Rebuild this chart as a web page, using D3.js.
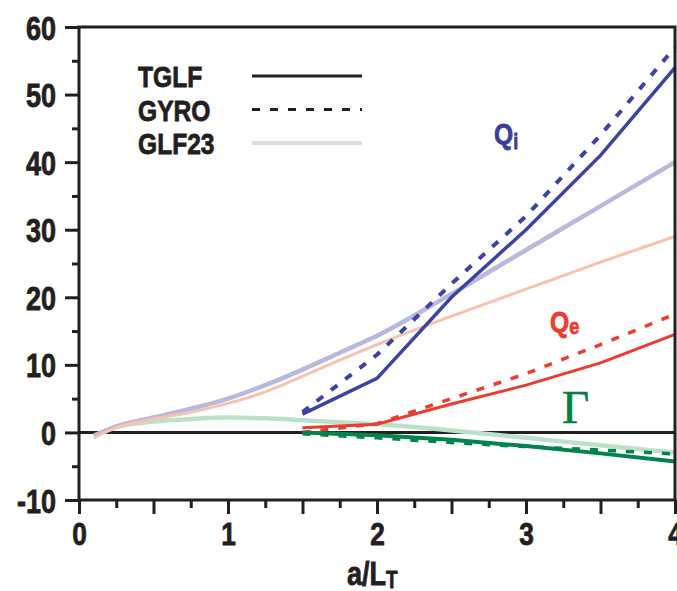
<!DOCTYPE html>
<html>
<head>
<meta charset="utf-8">
<script src="https://cdn.jsdelivr.net/npm/d3@7"></script>
<style>
  html, body { margin: 0; padding: 0; background: #fff; }
  svg { display: block; }
</style>
</head>
<body>
<div id="chart"></div>
<script>
// values
const xTGLF = [1.5, 2, 2.5, 3, 3.5, 4];
const qiTGLF = [2.7, 8, 20, 30, 41, 54];
const qiGYRO = [3, 11.5, 22, 32, 44, 57];
const qeTGLF = [0.7, 1.2, 4.2, 7, 10.3, 14.5];
const qeGYRO = [0, 1.3, 5, 8.7, 13, 17.5];
const gamTGLF = [0, -0.4, -1.1, -2.0, -3.1, -4.3];
const gamGYRO = [-0.2, -0.8, -1.5, -2.1, -2.6, -3.2];

const xGLF = [0.1, 0.25, 0.5, 0.75, 1, 1.25, 1.5, 1.75, 2, 2.5, 3, 3.5, 4];
const qiGLF = [-0.5, 0.9, 2.2, 3.5, 5, 7, 9.3, 11.8, 14.3, 20.5, 27, 33.5, 40];
const qeGLF = [-0.8, 0.7, 2, 3, 4.3, 6, 8.3, 10.7, 13, 17.2, 21.2, 25.2, 29];
const gamGLF = [-0.5, 0.8, 1.6, 2.0, 2.2, 2.1, 1.8, 1.5, 1.2, 0.3, -0.8, -1.9, -3];

const xTicks = d3.range(0, 4.001, 0.25);
const yTicks = d3.range(-10, 60.001, 5);
const legendNames = ["TGLF", "GYRO", "GLF23"];

const width = 677, height = 591;
const ink = "#231f20";

const svg = d3.select("#chart").append("svg")
  .attr("width", width)
  .attr("height", height);

// use a narrow bold face when there is one, otherwise squeeze the regular one
const probe = svg.append("text")
  .style("font", "bold 100px 'Liberation Sans Narrow'")
  .text("0000");
const narrow = probe.node().getComputedTextLength() < 200;
probe.remove();
const family = narrow ? "'Liberation Sans Narrow', 'Arial Narrow', sans-serif" : "'Liberation Sans', Arial, sans-serif";
const sx = narrow ? 1 : 0.82;

function label(g, px, py, size, color) {
  return g.append("text")
    .attr("transform", `translate(${px},${py}) scale(${sx},1)`)
    .attr("font-family", family)
    .attr("font-weight", "bold")
    .attr("font-size", size)
    .attr("fill", color)
    .attr("stroke", color)
    .attr("stroke-width", 0.8);
}

const x = d3.scaleLinear().domain([0, 4]).range([79, 675]);
const y = d3.scaleLinear().domain([-10, 60]).range([500, 27]);

// zero line
svg.append("line")
  .attr("x1", x(0)).attr("x2", x(4))
  .attr("y1", y(0)).attr("y2", y(0))
  .attr("stroke", ink)
  .attr("stroke-width", 3);

function drawLine(xs, ys, color, w, dash, curve) {
  const pts = xs.map((d, i) => [d, ys[i]]);
  svg.append("path")
    .datum(pts)
    .attr("fill", "none")
    .attr("stroke", color)
    .attr("stroke-width", w)
    .attr("stroke-dasharray", dash || null)
    .attr("d", d3.line()
      .curve(curve || d3.curveLinear)
      .x(d => x(d[0]))
      .y(d => y(d[1])));
}

// GLF23 (pale)
drawLine(xGLF, gamGLF, "#b9e2c9", 4.5, null, d3.curveMonotoneX);
drawLine(xGLF, qiGLF, "#b9b9df", 4.5, null, d3.curveMonotoneX);
drawLine(xGLF, qeGLF, "#f8c3ae", 3, null, d3.curveMonotoneX);

// GYRO (dashed)
drawLine(xTGLF, gamGYRO, "#00834c", 3.5, "8,10");
drawLine(xTGLF, qeGYRO, "#ee3b30", 3.5, "8,10");
drawLine(xTGLF, qiGYRO, "#3b44a0", 4, "8,10");

// TGLF (solid)
drawLine(xTGLF, gamTGLF, "#00834c", 4);
drawLine(xTGLF, qeTGLF, "#ee3b30", 3);
drawLine(xTGLF, qiTGLF, "#3b44a0", 3.5);

// frame
svg.append("rect")
  .attr("x", x(0)).attr("y", y(60))
  .attr("width", x(4) - x(0)).attr("height", y(-10) - y(60))
  .attr("fill", "none")
  .attr("stroke", ink)
  .attr("stroke-width", 3);

// y axis
const yAxis = svg.append("g")
  .attr("transform", `translate(${x(0)},0)`)
  .call(d3.axisLeft(y).tickValues(yTicks).tickFormat(d => d % 10 === 0 ? d : ""));
yAxis.select(".domain").remove();
yAxis.selectAll(".tick line")
  .attr("stroke", ink)
  .attr("stroke-width", 3)
  .attr("x2", d => d % 10 === 0 ? -14 : -7);
yAxis.selectAll(".tick text")
  .attr("x", null).attr("dy", null)
  .attr("transform", `translate(-23,12) scale(${sx},1)`)
  .attr("font-family", family)
  .attr("font-weight", "bold")
  .attr("font-size", 33)
  .attr("fill", ink)
  .attr("stroke", ink)
  .attr("stroke-width", 0.8);

// x axis
const xAxis = svg.append("g")
  .attr("transform", `translate(0,${y(-10)})`)
  .call(d3.axisBottom(x).tickValues(xTicks).tickFormat(d => Number.isInteger(d) ? d : ""));
xAxis.select(".domain").remove();
xAxis.selectAll(".tick line")
  .attr("stroke", ink)
  .attr("stroke-width", 3)
  .attr("y2", d => (d * 2) % 1 === 0 ? 14 : 8);
xAxis.selectAll(".tick text")
  .attr("y", null).attr("dy", null)
  .attr("transform", `translate(0,45) scale(${sx},1)`)
  .attr("font-family", family)
  .attr("font-weight", "bold")
  .attr("font-size", 32)
  .attr("fill", ink)
  .attr("stroke", ink)
  .attr("stroke-width", 0.8);

// x title a/L_T
const xt = label(svg, 347, 585, 33, ink);
xt.append("tspan").text("a/L");
xt.append("tspan").attr("font-size", 23).attr("dy", 3).text("T");

// legend
const legendColors = [ink, ink, "#d8dfe0"];
const legendDash = [null, "8,10", null];
const legendWidth = [3, 3, 4];
legendNames.forEach((name, i) => {
  const ly = 87 + i * 33.5;
  label(svg, 138, ly, 30, ink).text(name);
  svg.append("line")
    .attr("x1", 252).attr("x2", 362)
    .attr("y1", ly - 11).attr("y2", ly - 11)
    .attr("stroke", legendColors[i])
    .attr("stroke-width", legendWidth[i])
    .attr("stroke-dasharray", legendDash[i]);
});

// curve labels
const qi = label(svg, 494, 144, 30, "#3b3f9c");
qi.append("tspan").text("Q");
qi.append("tspan").attr("font-size", 22).attr("dy", 5).text("i");

const qe = label(svg, 550, 332, 30, "#ee3b30");
qe.append("tspan").text("Q");
qe.append("tspan").attr("font-size", 22).attr("dy", 2).text("e");

svg.append("text")
  .attr("x", 562).attr("y", 423)
  .attr("font-family", "'Liberation Serif', 'Times New Roman', serif")
  .attr("font-size", 47)
  .attr("fill", "#0a7b4a")
  .attr("stroke", "#0a7b4a")
  .attr("stroke-width", 0.6)
  .text("Γ");
</script>
</body>
</html>
